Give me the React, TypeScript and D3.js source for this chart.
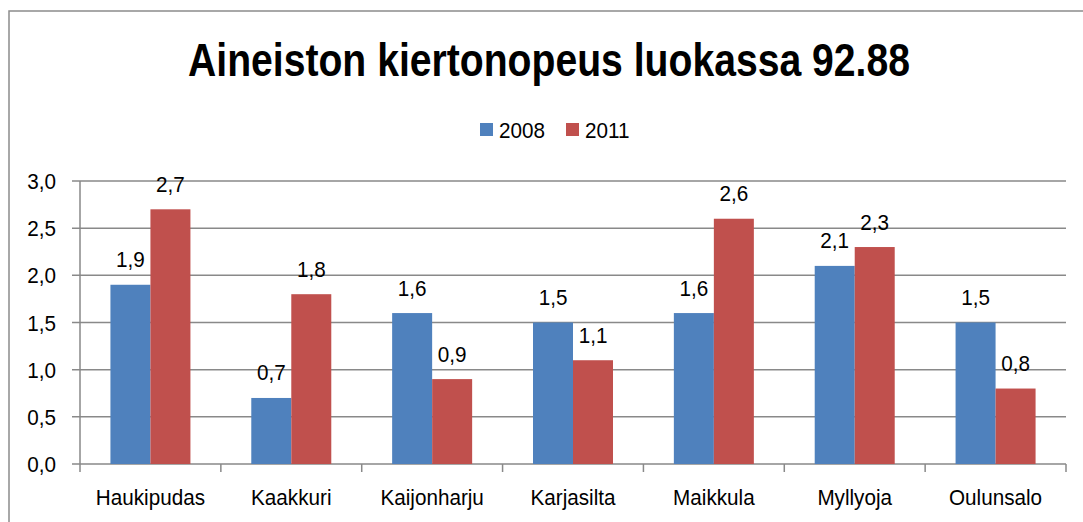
import React from "react";
import * as d3 from "d3";

const categories = ["Haukipudas", "Kaakkuri", "Kaijonharju", "Karjasilta", "Maikkula", "Myllyoja", "Oulunsalo"];
const seriesNames = ["2008", "2011"];
const values2008 = [1.9, 0.7, 1.6, 1.5, 1.6, 2.1, 1.5];
const values2011 = [2.7, 1.8, 0.9, 1.1, 2.6, 2.3, 0.8];
const yTicks = [0, 0.5, 1.0, 1.5, 2.0, 2.5, 3.0];
const colors = ["#4F81BD", "#C0504D"];
const title = "Aineiston kiertonopeus luokassa 92.88";

const fmt = (v: number) => v.toFixed(1).replace(".", ",");

const T = ({ x, y, anchor = "start", children }: { x: number; y: number; anchor?: string; children: React.ReactNode }) => (
  <text transform={`translate(${x},${y}) scale(0.94,1)`} fontSize={22} textAnchor={anchor} fill="#000">
    {children}
  </text>
);

export default function App() {
  const W = 1083, H = 522;
  const left = 80, right = 1066, top = 181, bottom = 464;
  const x0 = d3.scaleBand<string>().domain(categories).range([left, right]).padding(0);
  const step = x0.step();
  const groupW = 80;
  const x1 = d3.scaleBand<string>().domain(seriesNames).range([(step - groupW) / 2, (step + groupW) / 2]).padding(0);
  const y = d3.scaleLinear().domain([0, 3]).range([bottom, top]);
  const series = [values2008, values2011];
  const font = "'Liberation Sans', Arial, sans-serif";
  const grid = "#898989";

  return (
    <svg width={W} height={H} style={{ position: "absolute", left: 0, top: 0 }} fontFamily={font}>
      <rect x={0} y={0} width={W} height={H} fill="#fff" />
      <rect x={9} y={11} width={1200} height={600} fill="none" stroke="#8c8c8c" strokeWidth={1.5} />
      <text x={188} y={75.5} fontSize={46} fontWeight="bold" textLength={722} lengthAdjust="spacingAndGlyphs">{title}</text>
      {seriesNames.map((s, i) => {
        const lx = [480, 566][i];
        return (
          <g key={s}>
            <rect x={lx} y={123} width={13} height={13} fill={colors[i]} />
            <T x={lx + 19} y={137.5}>{s}</T>
          </g>
        );
      })}
      {yTicks.map((t) => (
        <g key={t}>
          <line x1={72} x2={right} y1={y(t)} y2={y(t)} stroke={grid} strokeWidth={1.5} />
          <T x={56} y={y(t) + 8} anchor="end">{fmt(t)}</T>
        </g>
      ))}
      <line x1={left} x2={left} y1={top} y2={bottom} stroke={grid} strokeWidth={1.5} />
      {categories.map((c, i) => (
        <line key={"t" + i} x1={x0(c)! + step} x2={x0(c)! + step} y1={bottom} y2={bottom + 8} stroke={grid} strokeWidth={1.5} />
      ))}
      <line x1={left} x2={left} y1={bottom} y2={bottom + 8} stroke={grid} strokeWidth={1.5} />
      {categories.map((c, i) => (
        <g key={c}>
          {series.map((vals, si) => {
            const bx = x0(c)! + x1(seriesNames[si])!;
            const bw = x1.bandwidth();
            return (
              <g key={si}>
                <rect x={bx} y={y(vals[i])} width={bw} height={bottom - y(vals[i])} fill={colors[si]} />
                <T x={bx + bw / 2} y={y(vals[i]) - 17.5} anchor="middle">{fmt(vals[i])}</T>
              </g>
            );
          })}
          <T x={x0(c)! + step / 2} y={505} anchor="middle">{c}</T>
        </g>
      ))}
    </svg>
  );
}
